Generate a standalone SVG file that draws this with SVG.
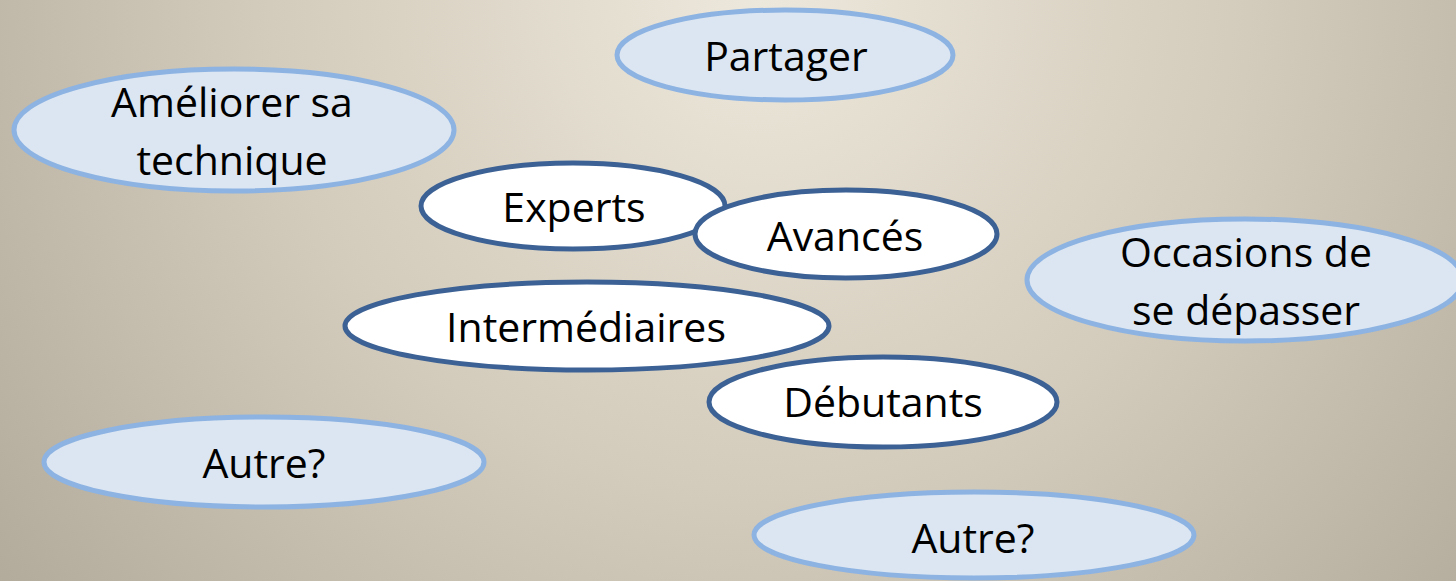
<svg xmlns="http://www.w3.org/2000/svg" width="1456" height="581" viewBox="0 0 1456 581">
<defs>
<radialGradient id="bg" gradientUnits="userSpaceOnUse" cx="760" cy="0" r="980" fx="760" fy="0">
<stop offset="0" stop-color="#ede8dc"/>
<stop offset="0.5" stop-color="#d3cbbb"/>
<stop offset="1" stop-color="#b1a999"/>
</radialGradient>
</defs>
<style>
.light{fill:#dce6f2;stroke:#8db3e2;stroke-width:5}
.dark{fill:#ffffff;stroke:#3c6194;stroke-width:5}
text{font-family:"Open Sans","Noto Sans","DejaVu Sans",sans-serif;font-size:41px;fill:#000;text-anchor:middle}
</style>
<rect x="0" y="0" width="1456" height="581" fill="url(#bg)"/>
<g id="connectors"/>
<g id="partager">
<ellipse class="light" cx="785" cy="55" rx="168" ry="45"/>
<text x="786" y="71">Partager</text>
</g>
<g id="ameliorer">
<ellipse class="light" cx="234" cy="130" rx="220" ry="61"/>
<text x="232" y="117">Améliorer sa</text>
<text x="232" y="175">technique</text>
</g>
<g id="occasions">
<ellipse class="light" cx="1245" cy="280" rx="218" ry="61"/>
<text x="1246" y="267">Occasions de</text>
<text x="1246" y="325">se dépasser</text>
</g>
<g id="autre1">
<ellipse class="light" cx="264" cy="462" rx="220" ry="45"/>
<text x="264" y="478">Autre?</text>
</g>
<g id="autre2">
<ellipse class="light" cx="974" cy="535" rx="220" ry="43"/>
<text x="973" y="553">Autre?</text>
</g>
<g id="experts">
<ellipse class="dark" cx="573" cy="206" rx="152" ry="43"/>
<text x="574" y="222">Experts</text>
</g>
<g id="avances">
<ellipse class="dark" cx="846" cy="234" rx="151" ry="44"/>
<text x="845" y="251">Avancés</text>
</g>
<g id="intermediaires">
<ellipse class="dark" cx="587" cy="326" rx="242" ry="44"/>
<text x="586" y="342">Intermédiaires</text>
</g>
<g id="debutants">
<ellipse class="dark" cx="883" cy="402" rx="174" ry="45"/>
<text x="883" y="417">Débutants</text>
</g>
</svg>
